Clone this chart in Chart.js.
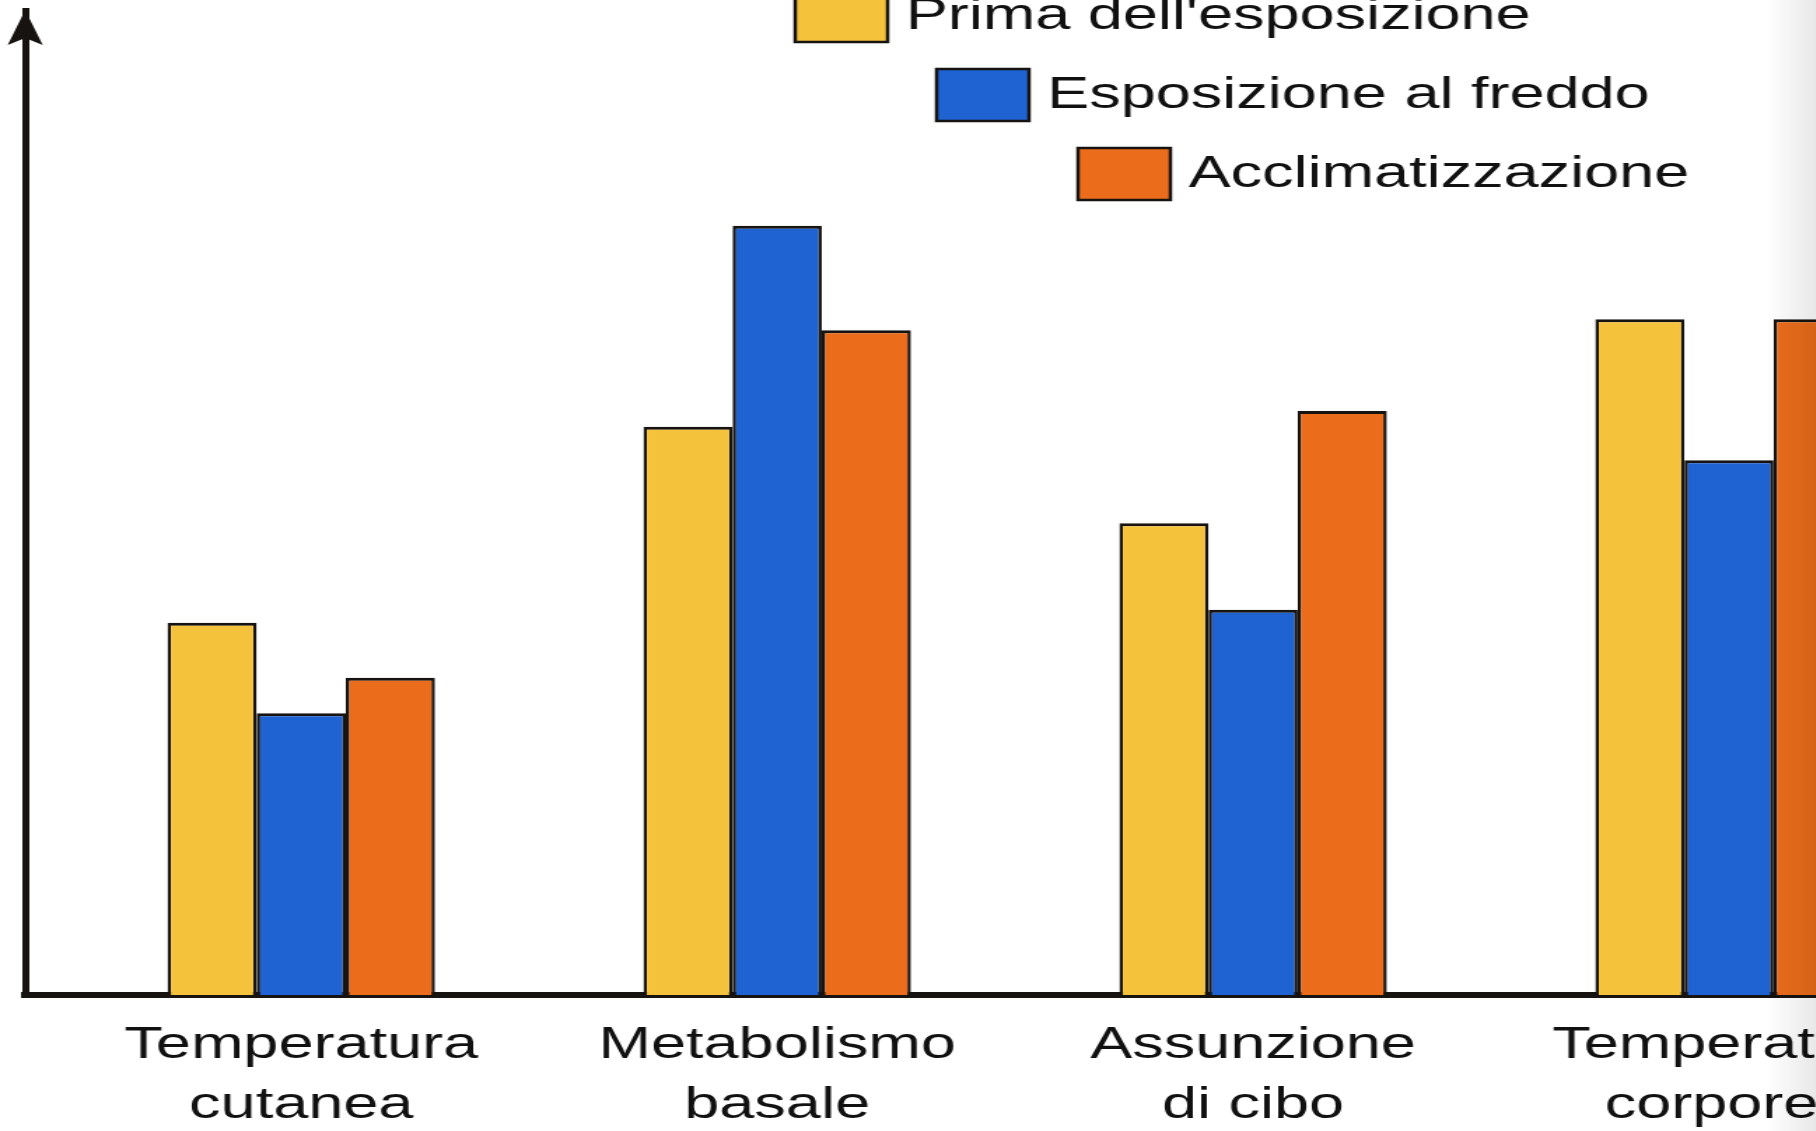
<!DOCTYPE html>
<html lang="it">
<head>
<meta charset="utf-8">
<title>Risposta all'esposizione al freddo</title>
<script src="https://cdn.jsdelivr.net/npm/chart.js@4.4.1/dist/chart.umd.min.js"></script>
<style>
  html, body { margin: 0; padding: 0; background: #ffffff; overflow: hidden; width: 1816px; height: 1131px; }
  /* the figure is drawn condensed and widened horizontally, like the printed plate */
  #stage { position: absolute; left: 0; top: 0; width: 1405px; height: 1131px; transform: scaleX(1.4); transform-origin: 0 0; }
  #shade { position: absolute; top: 0; right: 0; width: 50px; height: 1131px; pointer-events: none;
           background: linear-gradient(to right, rgba(0,0,0,0), rgba(0,0,0,0.09)); }
</style>
</head>
<body>
<div id="stage"><canvas id="chart"></canvas></div>
<div id="shade"></div>
<script>
// Categories (two-line tick labels)
const categories = [
  ['Temperatura', 'cutanea'],
  ['Metabolismo', 'basale'],
  ['Assunzione', 'di cibo'],
  ['Temperatura', 'corporea']
];

// Series names
const seriesNames = ["Prima dell'esposizione", 'Esposizione al freddo', 'Acclimatizzazione'];

// Relative values (arbitrary units, axis 0–100)
const primaValues  = [37.8, 57.7, 47.9, 68.6];
const freddoValues = [28.6, 78.1, 39.1, 54.3];
const acclimValues = [32.2, 67.5, 59.3, 68.6];

const seriesColors = ['#F5C23C', '#1F63D3', '#EB6D1B'];
const inkColor = '#161311';
const fontFamily = "'Liberation Sans', Arial, Helvetica, sans-serif";

const toPoints = vals => vals.map((v, i) => ({ x: i, y: v }));

// Arrow head on top of the vertical axis
const axisArrow = {
  id: 'axisArrow',
  afterDraw(chart) {
    const { ctx, chartArea } = chart;
    const x = chart.scales.y.right;
    const top = chartArea.top;
    const half = 12.5, len = 35, notch = 7;
    ctx.save();
    ctx.fillStyle = inkColor;
    ctx.beginPath();
    ctx.moveTo(x, top);
    ctx.lineTo(x + half, top + len);
    ctx.lineTo(x, top + len - notch);
    ctx.lineTo(x - half, top + len);
    ctx.closePath();
    ctx.fill();
    ctx.restore();
  }
};

// Staircase legend: each entry shifted right and down from the previous one
const stairLegend = {
  id: 'stairLegend',
  afterDraw(chart, args, opts) {
    const { ctx } = chart;
    ctx.save();
    chart.data.datasets.forEach((ds, i) => {
      const bx = opts.x + i * opts.dx;
      const by = opts.y + i * opts.dy;
      ctx.fillStyle = ds.backgroundColor;
      ctx.fillRect(bx, by, opts.boxWidth, opts.boxHeight);
      ctx.lineWidth = 2.5;
      ctx.strokeStyle = inkColor;
      ctx.strokeRect(bx, by, opts.boxWidth, opts.boxHeight);
      ctx.fillStyle = '#111111';
      ctx.font = `${opts.fontSize}px ${fontFamily}`;
      ctx.textBaseline = 'middle';
      ctx.textAlign = 'left';
      ctx.fillText(ds.label, bx + opts.boxWidth + opts.gap, by + opts.boxHeight / 2 + 1);
    });
    ctx.restore();
  }
};

const barStyle = {
  borderColor: inkColor,
  borderWidth: { top: 3, left: 2.5, right: 2.5, bottom: 0 },
  borderSkipped: 'start'
};

new Chart(document.getElementById('chart'), {
  type: 'bar',
  data: {
    datasets: [
      { label: seriesNames[0], data: toPoints(primaValues),  backgroundColor: seriesColors[0], ...barStyle },
      { label: seriesNames[1], data: toPoints(freddoValues), backgroundColor: seriesColors[1], ...barStyle },
      { label: seriesNames[2], data: toPoints(acclimValues), backgroundColor: seriesColors[2], ...barStyle }
    ]
  },
  options: {
    responsive: true,
    maintainAspectRatio: false,
    animation: false,
    layout: { padding: { left: 18, top: 10, right: 0, bottom: 0 } },
    datasets: { bar: { categoryPercentage: 0.562, barPercentage: 1.0 } },
    scales: {
      x: {
        type: 'linear',
        offset: false,
        min: -0.58,
        max: 3.5,
        z: 1,
        grid: { display: false, drawTicks: false, offset: false },
        border: { display: true, width: 6, color: inkColor },
        afterBuildTicks: scale => { scale.ticks = categories.map((_, i) => ({ value: i })); },
        afterFit: scale => { scale.height = 136; },
        ticks: {
          autoSkip: false,
          maxRotation: 0,
          padding: 21,
          color: '#111111',
          font: { family: fontFamily, size: 45, lineHeight: 1.32 },
          callback: value => categories[value]
        }
      },
      y: {
        min: 0,
        max: 100,
        z: 1,
        grid: { display: false, drawTicks: false },
        ticks: { display: false },
        border: { display: true, width: 5, color: inkColor },
        afterFit: scale => { scale.width = 0; }
      }
    },
    plugins: {
      legend: { display: false },
      tooltip: { enabled: false },
      stairLegend: { x: 568, y: -10, dx: 101, dy: 79, boxWidth: 66, boxHeight: 52, gap: 13, fontSize: 45 }
    }
  },
  plugins: [axisArrow, stairLegend]
});
</script>
</body>
</html>
